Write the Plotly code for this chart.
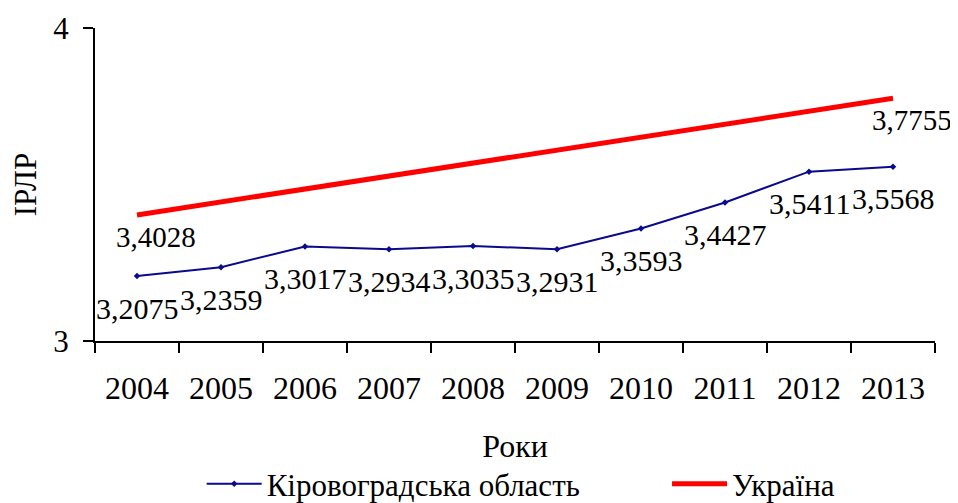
import plotly.graph_objects as go

years = ["2004", "2005", "2006", "2007", "2008", "2009", "2010", "2011", "2012", "2013"]
kirovohrad = [3.2075, 3.2359, 3.3017, 3.2934, 3.3035, 3.2931, 3.3593, 3.4427, 3.5411, 3.5568]
ukraine_years = ["2004", "2013"]
ukraine = [3.4028, 3.7755]

name_kir = "Кіровоградська область"
name_ukr = "Україна"
y_title = "ІРЛР"
x_title = "Роки"

FONT = "Liberation Serif"

def fmt(v):
    return f"{v:.4f}".replace(".", ",")

fig = go.Figure()
fig.add_trace(go.Scatter(
    x=years, y=kirovohrad, name=name_kir, mode="lines+markers",
    line=dict(color="#0a0a8c", width=2), marker=dict(size=5, symbol="diamond", color="#0a0a8c"),
    hoverinfo="skip", legend="legend"))
fig.add_trace(go.Scatter(
    x=ukraine_years, y=ukraine, name=name_ukr, mode="lines",
    line=dict(color="#ff0000", width=5), hoverinfo="skip", legend="legend2"))

for yr, v in zip(years, kirovohrad):
    fig.add_annotation(x=years.index(yr), y=v, xref="x", yref="y", text=fmt(v), showarrow=False,
                       yshift=-32, font=dict(family=FONT, size=30, color="black"))
for yr, v in zip(ukraine_years, ukraine):
    fig.add_annotation(x=years.index(yr), y=v, xref="x", yref="y", text=fmt(v), showarrow=False,
                       yshift=-22, xshift=19, font=dict(family=FONT, size=29, color="black"))

legend_common = dict(orientation="h", xanchor="left", y=-0.457, yanchor="middle",
                     itemwidth=55,
                     font=dict(family=FONT, size=31, color="black"), bgcolor="rgba(0,0,0,0)")

fig.update_layout(
    width=950, height=495,
    margin=dict(l=87, r=23, t=20, b=162, autoexpand=False),
    paper_bgcolor="white", plot_bgcolor="white",
    font=dict(family=FONT, color="black"),
    showlegend=True,
    legend=dict(x=0.127, **legend_common),
    legend2=dict(x=0.681, **legend_common),
    xaxis=dict(
        type="category",
        range=[-0.5, 9.5], showgrid=False, zeroline=False,
        showline=True, linecolor="black", linewidth=2,
        ticks="outside", tickson="boundaries", ticklen=10, tickwidth=2, tickcolor="black",
        tickfont=dict(family=FONT, size=32, color="black"), ticklabelstandoff=18,
        title=dict(text=x_title, font=dict(family=FONT, size=32, color="black"), standoff=29),
    ),
    yaxis=dict(
        range=[3, 4], dtick=1, tick0=3, showgrid=False, zeroline=False,
        showline=True, linecolor="black", linewidth=2,
        ticks="outside", ticklen=10, tickwidth=2, tickcolor="black",
        tickfont=dict(family=FONT, size=31, color="black"), ticklabelstandoff=8,
        title=dict(text=y_title, font=dict(family=FONT, size=31, color="black"), standoff=12),
    ),
)

fig.write_html("out.html")
